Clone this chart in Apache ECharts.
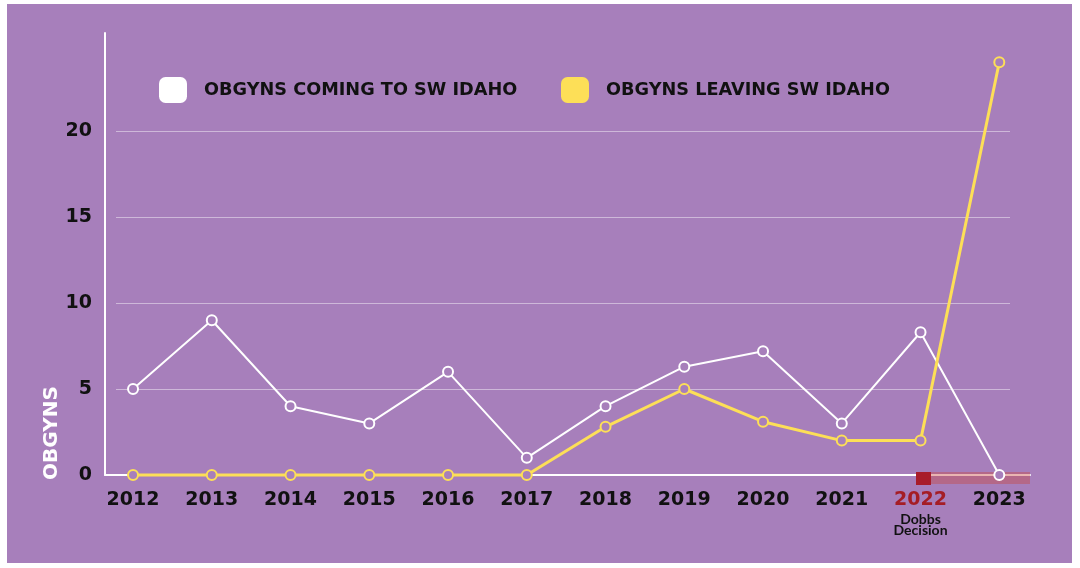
<!DOCTYPE html>
<html>
<head>
<meta charset="utf-8">
<script src="https://cdn.jsdelivr.net/npm/echarts@6/dist/echarts.min.js"></script>
<style>
  html, body { margin: 0; padding: 0; background: #fff; }
  #main { width: 1080px; height: 568px; }
</style>
</head>
<body>
<div id="main"></div>
<script>
// data
var years = [2012, 2013, 2014, 2015, 2016, 2017, 2018, 2019, 2020, 2021, 2022, 2023];
var coming = [5, 9, 4, 3, 6, 1, 4, 6.3, 7.2, 3, 8.3, 0];
var leaving = [0, 0, 0, 0, 0, 0, 2.8, 5, 3.1, 2, 2, 24];
var yTicks = [0, 5, 10, 15, 20];
var gridValues = [5, 10, 15, 20];
var markYear = 2022;

var PURPLE = '#a77fbb';
var YELLOW = '#fddf57';
var HEAVY = "'DejaVu Sans', sans-serif";
var PLAIN = "Lato, 'Noto Sans', sans-serif";

var myChart = echarts.init(document.getElementById('main'));

function pairs(vals) {
    return years.map(function (y, i) { return [y, vals[i]]; });
}

var legendText = { fontFamily: HEAVY, fontSize: 17.7, fontWeight: 'bold', color: '#111', padding: [2, 0, 0, 12] };

var option = {
    backgroundColor: '#fff',
    animation: false,
    textStyle: { fontFamily: HEAVY },
    grid: [
        { left: 105, right: 50, top: 33, bottom: 93 },
        { left: 116, right: 70, top: 33, bottom: 93 } // only for the shorter gridlines
    ],
    legend: [
        {
            left: 159, top: 77, padding: 0,
            itemWidth: 28, itemHeight: 26, icon: 'roundRect',
            data: [{ name: 'OBGYNS COMING TO SW IDAHO', itemStyle: { color: '#fff', borderWidth: 0 } }],
            textStyle: legendText
        },
        {
            left: 561, top: 77, padding: 0,
            itemWidth: 28, itemHeight: 26, icon: 'roundRect',
            data: [{ name: 'OBGYNS LEAVING SW IDAHO', itemStyle: { color: YELLOW, borderWidth: 0 } }],
            textStyle: legendText
        }
    ],
    xAxis: [
        {
            type: 'value',
            gridIndex: 0,
            min: 2011.644,
            max: 2023.39,
            splitLine: { show: false },
            axisTick: { show: false },
            axisLine: { lineStyle: { color: '#fff', width: 2 } },
            axisLabel: {
                customValues: years,
                margin: 11,
                color: '#111',
                fontFamily: HEAVY,
                fontSize: 19,
                fontWeight: 'bold',
                lineHeight: 28,
                formatter: function (v) {
                    if (v === markYear) return '{red|' + v + '}\n{sub|Dobbs}\n{sub|Decision}';
                    return String(v);
                },
                rich: {
                    red: { color: '#a51d25', fontFamily: HEAVY, fontSize: 19, fontWeight: 'bold', lineHeight: 28 },
                    sub: { color: '#111', fontFamily: PLAIN, fontSize: 14, fontWeight: 'bold', lineHeight: 11 }
                }
            }
        },
        { type: 'value', gridIndex: 1, show: false, min: 0, max: 1 }
    ],
    yAxis: [
        {
            type: 'value',
            gridIndex: 0,
            min: 0,
            max: 25.7,
            splitLine: { show: false },
            axisTick: { show: false },
            axisLine: { show: true, lineStyle: { color: '#fff', width: 2 } },
            axisLabel: {
                customValues: yTicks,
                margin: 13,
                color: '#111',
                fontFamily: HEAVY,
                fontSize: 19,
                fontWeight: 'bold'
            }
        },
        {
            type: 'value',
            gridIndex: 1,
            min: 0,
            max: 25.7,
            axisLine: { show: false },
            axisLabel: { show: false },
            axisTick: { show: false, customValues: gridValues },
            splitLine: { show: true, lineStyle: { color: 'rgba(255,255,255,0.45)', width: 1 } }
        }
    ],
    graphic: [
        { type: 'rect', z: -100, shape: { x: 7, y: 4, width: 1065, height: 559 }, style: { fill: PURPLE } },
        {
            type: 'text', x: 52, y: 433, rotation: Math.PI / 2,
            style: {
                text: 'OBGYNS', fill: '#fff', font: 'bold 20px ' + HEAVY,
                textAlign: 'center', textVerticalAlign: 'middle'
            }
        },
        // Dobbs decision marker on the axis
        { type: 'rect', z: 1, shape: { x: 916, y: 472, width: 15, height: 13 }, style: { fill: '#a81c2a' } },
        { type: 'rect', z: 1, shape: { x: 931, y: 472, width: 99, height: 12 }, style: { fill: 'rgba(200,70,60,0.4)' } }
    ],
    series: [
        {
            name: 'OBGYNS COMING TO SW IDAHO',
            type: 'line',
            data: pairs(coming),
            symbol: 'circle',
            symbolSize: 10,
            clip: false,
            lineStyle: { color: '#fff', width: 2 },
            itemStyle: { color: PURPLE, borderColor: '#fff', borderWidth: 2 }
        },
        {
            name: 'OBGYNS LEAVING SW IDAHO',
            type: 'line',
            data: pairs(leaving),
            symbol: 'circle',
            symbolSize: 10,
            clip: false,
            lineStyle: { color: YELLOW, width: 3 },
            itemStyle: { color: PURPLE, borderColor: YELLOW, borderWidth: 2 }
        }
    ]
};

myChart.setOption(option);
</script>
</body>
</html>
